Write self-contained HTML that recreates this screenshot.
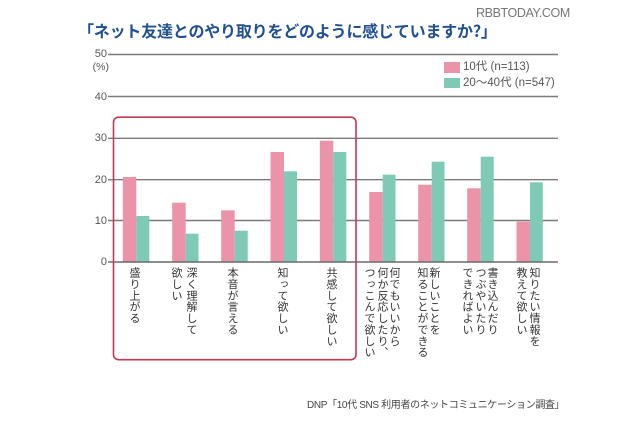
<!DOCTYPE html>
<html><head><meta charset="utf-8">
<style>
html,body{margin:0;padding:0;background:#fff;}
body{width:640px;height:426px;position:relative;overflow:hidden;font-family:"Liberation Sans","Noto Sans CJK JP",sans-serif;}
.t{position:absolute;white-space:nowrap;}
.yl{position:absolute;width:30px;text-align:right;font-size:11px;line-height:12px;color:#555;left:77px;}
.v{position:absolute;writing-mode:vertical-rl;font-family:"Noto Sans CJK JP",sans-serif;font-size:11px;line-height:12px;width:12px;letter-spacing:0.35px;color:#333;top:267px;white-space:nowrap;}
</style></head><body>
<div class="t" style="left:476px;top:6px;font-size:12.5px;color:#777;letter-spacing:-0.4px;">RBBTODAY.COM</div>
<div class="t" style="left:78px;top:21px;font-size:16px;line-height:18px;font-weight:bold;color:#22508f;font-family:'Noto Sans CJK JP',sans-serif;letter-spacing:-0.2px;">「ネット友達とのやり取りをどのように感じていますか?」</div>

<svg width="640" height="426" style="position:absolute;left:0;top:0;" xmlns="http://www.w3.org/2000/svg">
<g stroke="#7a7a7a" stroke-width="1.4">
<line x1="108" y1="54.5" x2="558" y2="54.5"/>
<line x1="108" y1="96.5" x2="558" y2="96.5"/>
<line x1="108" y1="138.3" x2="558" y2="138.3"/>
<line x1="108" y1="179.7" x2="558" y2="179.7"/>
<line x1="108" y1="220.5" x2="558" y2="220.5"/>
</g>
<g fill="#eb93a8">
<rect x="122.8" y="177" width="13.5" height="85"/>
<rect x="172.2" y="202.7" width="13.5" height="59.3"/>
<rect x="221.2" y="210.3" width="13.5" height="51.7"/>
<rect x="270.5" y="152" width="13.5" height="110"/>
<rect x="319.8" y="140.7" width="13.5" height="121.3"/>
<rect x="369.2" y="192" width="13.5" height="70"/>
<rect x="418.2" y="184.7" width="13.5" height="77.3"/>
<rect x="467.2" y="188.3" width="13.5" height="73.7"/>
<rect x="516.5" y="221.7" width="13.5" height="40.3"/>
</g>
<g fill="#7ecab6">
<rect x="136.3" y="216" width="13" height="46"/>
<rect x="185.7" y="233.7" width="12.8" height="28.3"/>
<rect x="234.7" y="230.7" width="13" height="31.3"/>
<rect x="284" y="171.3" width="13" height="90.7"/>
<rect x="333.3" y="152" width="13" height="110"/>
<rect x="382.7" y="174.7" width="12.8" height="87.3"/>
<rect x="431.7" y="161.7" width="12.8" height="100.3"/>
<rect x="480.7" y="156.7" width="13" height="105.3"/>
<rect x="530" y="182.3" width="12.8" height="79.7"/>
</g>
<line x1="108" y1="262" x2="558" y2="262" stroke="#6a6a6a" stroke-width="1.6"/>
<rect x="113.5" y="117.2" width="242.5" height="242.5" rx="5" ry="5" fill="none" stroke="#c23a52" stroke-width="1.6"/>
<rect x="444" y="62" width="16" height="11" fill="#eb93a8"/>
<rect x="444" y="78" width="16" height="10" fill="#7ecab6"/>
</svg>

<div class="yl" style="top:48px;">50</div>
<div class="yl" style="top:61px;left:79px;font-size:10.5px;">(%)</div>
<div class="yl" style="top:90.5px;">40</div>
<div class="yl" style="top:132.3px;">30</div>
<div class="yl" style="top:173.7px;">20</div>
<div class="yl" style="top:214.5px;">10</div>
<div class="yl" style="top:256px;">0</div>

<div class="t" style="left:463px;top:60px;font-size:11.5px;line-height:14px;color:#555;">10代 (n=113)</div>
<div class="t" style="left:463px;top:76px;font-size:11.5px;line-height:14px;color:#555;">20～40代 (n=547)</div>

<div class="v" style="left:129px;">盛り上がる</div>
<div class="v" style="left:186px;">深く理解して</div>
<div class="v" style="left:171px;">欲しい</div>
<div class="v" style="left:227px;">本音が言える</div>
<div class="v" style="left:277px;">知って欲しい</div>
<div class="v" style="left:326px;">共感して欲しい</div>
<div class="v" style="left:389px;">何でもいいから</div>
<div class="v" style="left:377px;">何か反応したり、</div>
<div class="v" style="left:364px;">つっこんで欲しい</div>
<div class="v" style="left:429px;">新しいことを</div>
<div class="v" style="left:417px;">知ることができる</div>
<div class="v" style="left:487px;">書き込んだり</div>
<div class="v" style="left:475px;">つぶやいたり</div>
<div class="v" style="left:462px;">できればよい</div>
<div class="v" style="left:529px;">知りたい情報を</div>
<div class="v" style="left:516px;">教えて欲しい</div>

<div class="t" style="left:307px;top:399px;font-size:10px;line-height:13px;color:#444;letter-spacing:-0.35px;">DNP「10代 SNS 利用者のネットコミュニケーション調査」</div>
</body></html>
